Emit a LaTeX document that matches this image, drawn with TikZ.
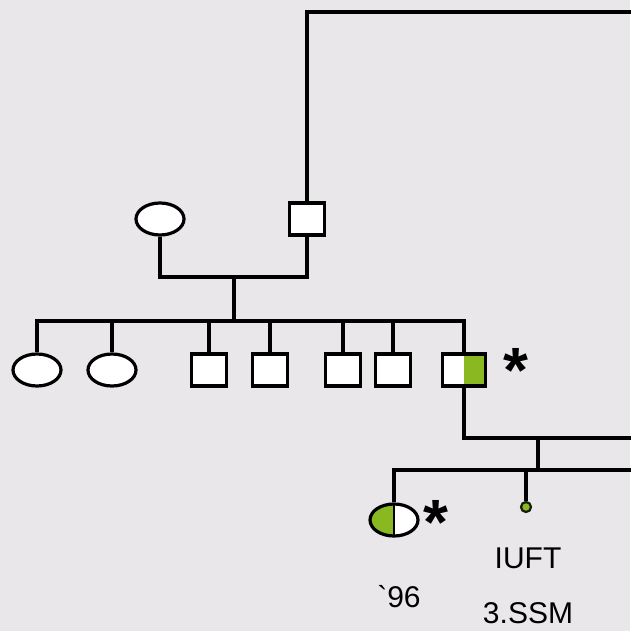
\documentclass[tikz,border=0pt]{standalone}
\usepackage{fontspec}
\setmainfont{Liberation Sans}
\usetikzlibrary{shapes.geometric}
\definecolor{bg}{HTML}{E9E7E9}
\definecolor{gr}{HTML}{8AB820}
\tikzset{
  x=1pt,y=-1pt,
  line/.style={line width=3.3pt},
  male/.style={rectangle,draw,line width=3.2pt,fill=white,minimum width=35pt,minimum height=32pt,inner sep=0pt},
  female/.style={ellipse,draw,line width=3.2pt,fill=white,minimum width=48pt,minimum height=32pt,inner sep=0pt},
  halfright/.style={path picture={\fill[gr] (path picture bounding box.north) rectangle (path picture bounding box.south east);}},
  halfleft/.style={path picture={\fill[gr] (path picture bounding box.north west) rectangle (path picture bounding box.south);
    \draw[line width=2.5pt] (path picture bounding box.north) -- (path picture bounding box.south);}},
  lbl/.style={font=\fontsize{30}{32}\selectfont,inner sep=0pt},
  star/.style={font=\fontsize{64}{66}\selectfont\bfseries,inner sep=0pt},
}
\begin{document}
\begin{tikzpicture}
\fill[bg] (0,0) rectangle (630,631);
\useasboundingbox (0,0) rectangle (630,631);
% generation I
\node[female] (gm) at (160,219) {};
\node[male] (gf) at (307,219) {};
\coordinate (topc) at (307,12);
\coordinate (topr) at (632,12);
\draw[line,line cap=rect] (gf.north) -- (topc) -- (topr);
\coordinate (m1) at (160,277);
\coordinate (m2) at (307,277);
\coordinate (mc) at (234,277);
\draw[line] (gm.south) -- (m1) -- (m2) -- (gf.south);
% generation II
\coordinate (sl) at (37,321);
\coordinate (sc) at (234,321);
\coordinate (sr) at (464,321);
\draw[line] (mc) -- (sc);
\node[female] (c1) at (37,370) {};
\node[female] (c2) at (112,370) {};
\node[male] (c3) at (209,370) {};
\node[male] (c4) at (270,370) {};
\node[male] (c5) at (343,370) {};
\node[male] (c6) at (393,370) {};
\node[male,minimum width=43pt,halfright] (c7) at (464,370) {};
\draw[line] (c1.north) -- (sl) -- (sr) -- (c7.north);
\foreach \n in {c2,c3,c4,c5,c6}{
  \draw[line] (\n.north) -- (\n.north |- sl);
}
\node[star] (s1) at (516,370) {*};
% generation III
\coordinate (p1) at (464,438);
\coordinate (p2) at (632,438);
\coordinate (pc) at (538,438);
\coordinate (kc) at (538,470);
\coordinate (kl) at (394,470);
\coordinate (kr) at (632,470);
\draw[line] (c7.south) -- (p1) -- (p2);
\draw[line] (pc) -- (kc);
\node[female,halfleft] (d1) at (394,520) {};
\node[circle,draw=black!85!gr,fill=gr,line width=2.2pt,minimum size=10pt,inner sep=0pt] (d2) at (526,507) {};
\draw[line] (d1.north) -- (kl) -- (kr);
\draw[line] (d2.north) -- (d2.north |- kl);
\node[star] (s2) at (436,522) {*};
\node[lbl] (t1) at (528,558) {IUFT};
\node[lbl] (t2) at (528,613) {3.SSM};
\node[lbl] (t3) at (399,597) {{\addfontfeature{Ligatures=TeXOff}\symbol{96}}96};
\end{tikzpicture}
\end{document}
